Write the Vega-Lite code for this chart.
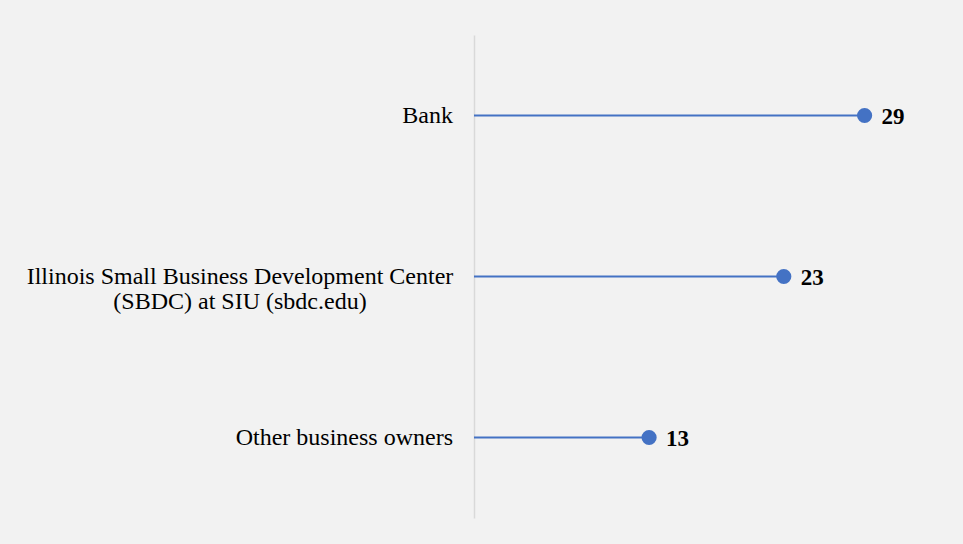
{
  "$schema": "https://vega.github.io/schema/vega-lite/v6.json",
  "autosize": "none",
  "width": 431,
  "height": 483,
  "padding": {"left": 474, "top": 35, "right": 58, "bottom": 26},
  "background": "#f2f2f2",
  "config": {"view": {"stroke": null}, "font": "Liberation Serif"},
  "resolve": {"scale": {"x": "shared"}},
  "data": {
    "values": [
      {"source": "Bank", "label": "Bank", "value": 29, "wrap": false},
      {"source": "Illinois Small Business Development Center (SBDC) at SIU (sbdc.edu)", "label": "Illinois Small Business Development Center\n(SBDC) at SIU (sbdc.edu)", "value": 23, "wrap": true},
      {"source": "Other business owners", "label": "Other business owners", "value": 13, "wrap": false}
    ]
  },
  "encoding": {
    "y": {
      "field": "source",
      "type": "nominal",
      "sort": null,
      "scale": {"paddingInner": 0, "paddingOuter": 0},
      "axis": {"title": null, "labels": false, "ticks": false, "domainColor": "#d9d9d9", "domainWidth": 1.5}
    }
  },
  "layer": [
    {
      "mark": {"type": "rule", "color": "#4472c4", "strokeWidth": 2},
      "encoding": {
        "x": {"field": "value", "type": "quantitative", "scale": {"domain": [0, 32], "nice": false, "zero": false}, "axis": null},
        "x2": {"datum": 0}
      }
    },
    {
      "mark": {"type": "circle", "color": "#4472c4", "opacity": 1, "size": 230},
      "encoding": {
        "x": {"field": "value", "type": "quantitative", "scale": {"domain": [0, 32], "nice": false, "zero": false}, "axis": null}
      }
    },
    {
      "mark": {"type": "text", "align": "left", "baseline": "middle", "dx": 17, "dy": 1, "fontSize": 23, "fontWeight": "bold", "color": "#000000"},
      "encoding": {
        "x": {"field": "value", "type": "quantitative", "scale": {"domain": [0, 32], "nice": false, "zero": false}, "axis": null},
        "text": {"field": "value", "type": "quantitative"}
      }
    },
    {
      "transform": [{"filter": "!datum.wrap"}],
      "mark": {"type": "text", "align": "right", "baseline": "middle", "dx": -21, "fontSize": 24, "color": "#000000"},
      "encoding": {
        "x": {"datum": 0, "type": "quantitative", "scale": {"domain": [0, 32], "nice": false, "zero": false}, "axis": null},
        "text": {"field": "label", "type": "nominal"}
      }
    },
    {
      "transform": [{"filter": "datum.wrap"}],
      "mark": {"type": "text", "align": "center", "baseline": "middle", "dx": -234, "fontSize": 24, "lineHeight": 25, "lineBreak": "\n", "color": "#000000"},
      "encoding": {
        "x": {"datum": 0, "type": "quantitative", "scale": {"domain": [0, 32], "nice": false, "zero": false}, "axis": null},
        "text": {"field": "label", "type": "nominal"}
      }
    }
  ]
}
